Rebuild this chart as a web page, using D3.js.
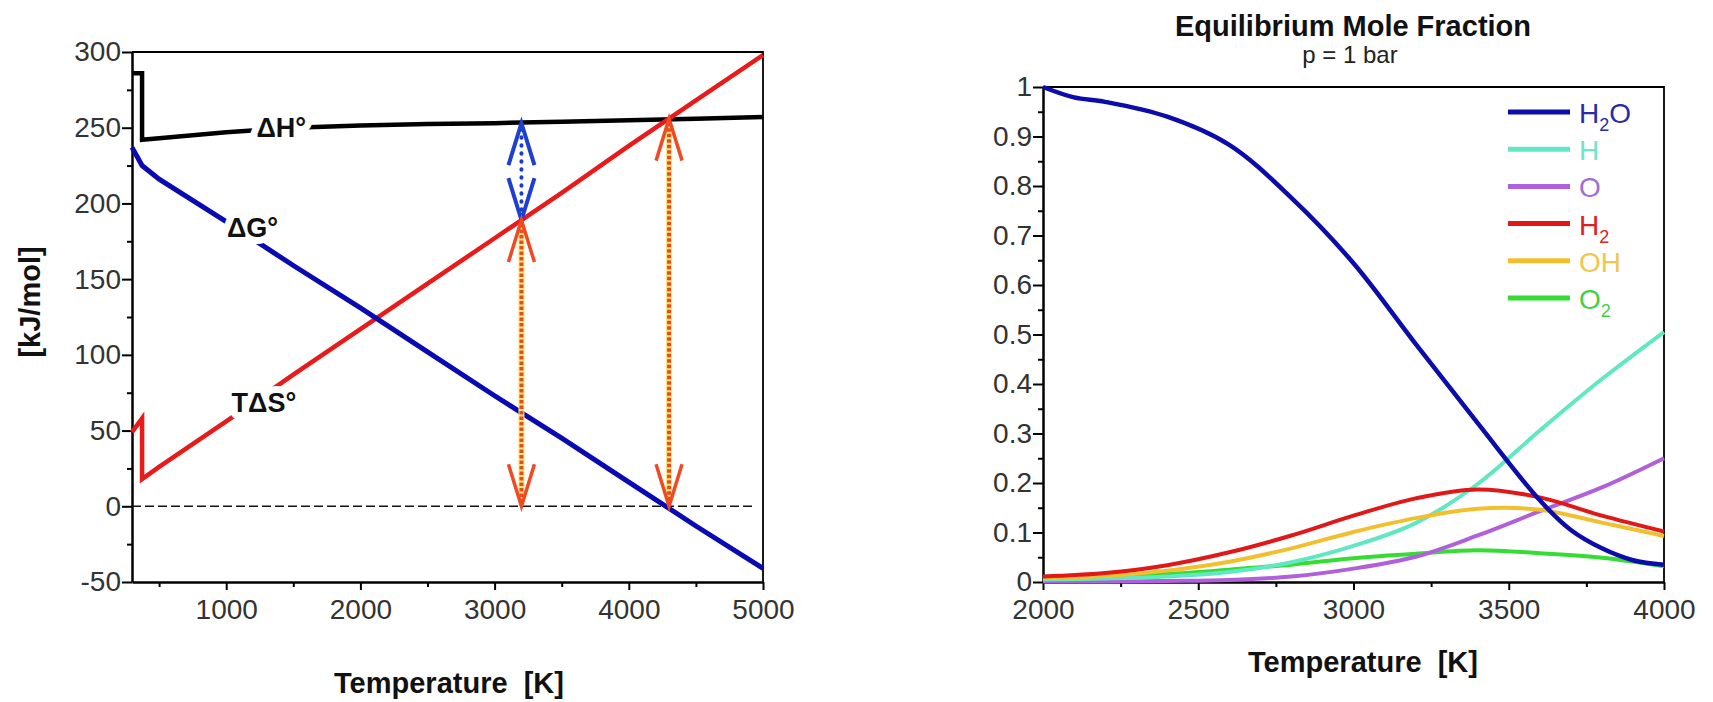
<!DOCTYPE html>
<html>
<head>
<meta charset="utf-8">
<script src="https://cdn.jsdelivr.net/npm/d3@7.9.0/dist/d3.min.js"></script>
<style>
  body { margin: 0; background: #fff; }
  svg { display: block; font-family: 'Liberation Sans', Arial, sans-serif; }
</style>
</head>
<body>
<svg id="chart" width="1713" height="702"></svg>
<script>
// ---- left panel: water splitting thermodynamics (kJ/mol) ----
const tempK = [298, 373, 373, 500, 1000, 1500, 2000, 2500, 3000, 3500, 4000, 4500, 5000];
const dH = [286, 286, 242, 243, 247, 250, 251.5, 252.5, 253, 254, 255, 256, 257];
const dG = [237, 225, 225, 216, 188, 159, 131, 102, 73, 45, 16, -13, -41];
const TdS = [49, 58, 18, 26, 56, 87, 117, 147, 177, 207, 238, 268, 298];

const labelText = ['ΔH°', 'ΔG°', 'TΔS°'];
const labelT = [1225, 1005, 1040];
const labelV = [244, 178, 62];

// arrows: temperature, lower value, upper value
const arrowT = [3200, 3200, 4300];
const arrowLo = [189, 0, 0];
const arrowHi = [253, 189, 256];
const arrowKind = ['blue', 'orange', 'orange'];

// ---- right panel: equilibrium mole fractions, p = 1 bar ----
const tempH2O = [2000, 2100, 2200, 2400, 2600, 2800, 3000, 3200, 3400, 3600, 3700, 3800, 3900, 4000];
const xH2O = [1.0, 0.979, 0.970, 0.94, 0.883, 0.776, 0.644, 0.481, 0.321, 0.165, 0.105, 0.068, 0.044, 0.035];

const tempMole = [2000, 2200, 2400, 2600, 2800, 3000, 3200, 3400, 3600, 3800, 4000];
const xH = [0.005, 0.007, 0.011, 0.020, 0.040, 0.073, 0.119, 0.198, 0.306, 0.41, 0.505];
const xO = [0.001, 0.001, 0.002, 0.004, 0.011, 0.027, 0.051, 0.094, 0.143, 0.191, 0.25];
const xH2 = [0.011, 0.018, 0.034, 0.060, 0.094, 0.134, 0.169, 0.187, 0.171, 0.134, 0.102];
const xOH = [0.008, 0.012, 0.023, 0.041, 0.068, 0.101, 0.129, 0.148, 0.146, 0.120, 0.093];
const xO2 = [0.007, 0.010, 0.016, 0.025, 0.035, 0.048, 0.057, 0.064, 0.058, 0.049, 0.032];

const speciesNames = ['H2O', 'H', 'O', 'H2', 'OH', 'O2'];
const lineColors = ['#0c0cac', '#5fe8c2', '#b060da', '#e01818', '#f2c02e', '#34dc34'];
const textColors = ['#2b2ba8', '#6ee6c6', '#a46cd4', '#e02020', '#f0c650', '#44d044'];

const svg = d3.select('#chart');

const xL = d3.scaleLinear().domain([298, 5000]).range([132, 763]);
const yL = d3.scaleLinear().domain([-50, 300]).range([582, 52]);
const xR = d3.scaleLinear().domain([2000, 4000]).range([1043, 1664]);
const yR = d3.scaleLinear().domain([0, 1]).range([582, 87]);

// plain hyphen minus, like the original plot
const plainFmt = d => String(+d.toFixed(2));

function drawFrame(x, y, xMajor, xMinor, yMajor, yMinor) {
  const g = svg.append('g');
  const [x0, x1] = x.range();
  const [y0, y1] = y.range();

  // top and right border
  g.append('path')
    .attr('d', `M${x0},${y1}H${x1}V${y0}`)
    .attr('fill', 'none').attr('stroke', '#000').attr('stroke-width', 1.8);

  const style = sel => {
    sel.attr('font-size', 28).attr('font-family', "'Liberation Sans', Arial, sans-serif");
    sel.selectAll('text').attr('fill', '#333');
    sel.selectAll('line').attr('stroke-width', 2);
  };

  g.append('g').attr('transform', `translate(0,${y0})`)
    .call(d3.axisBottom(x).tickValues(xMinor).tickSize(5).tickFormat('').tickSizeOuter(0))
    .call(s => s.select('.domain').remove()).call(style);
  g.append('g').attr('transform', `translate(${x0},0)`)
    .call(d3.axisLeft(y).tickValues(yMinor).tickSize(5).tickFormat('').tickSizeOuter(0))
    .call(s => s.select('.domain').remove()).call(style);

  g.append('g').attr('transform', `translate(0,${y0})`)
    .call(d3.axisBottom(x).tickValues(xMajor).tickSize(8).tickPadding(9).tickSizeOuter(0).tickFormat(plainFmt))
    .call(style)
    .call(s => s.select('.domain').attr('stroke-width', 2.5));
  g.append('g').attr('transform', `translate(${x0},0)`)
    .call(d3.axisLeft(y).tickValues(yMajor).tickSize(10).tickPadding(1).tickSizeOuter(0).tickFormat(plainFmt))
    .call(style)
    .call(s => s.select('.domain').attr('stroke-width', 2.5));
}

// ---------- left panel ----------
drawFrame(xL, yL,
  d3.range(1000, 5001, 1000), d3.range(500, 5000, 1000),
  d3.range(-50, 301, 50), d3.range(-25, 300, 50));

// zero reference
svg.append('line')
  .attr('x1', xL(298)).attr('x2', xL(4940))
  .attr('y1', yL(0)).attr('y2', yL(0))
  .attr('stroke', '#111').attr('stroke-width', 1.5).attr('stroke-dasharray', '9,4');

const lineL = vals => d3.line().x((d, i) => xL(tempK[i])).y(d => yL(d))(vals);

svg.append('path').attr('d', lineL(dH)).attr('fill', 'none')
  .attr('stroke', '#000').attr('stroke-width', 4.5).attr('stroke-linejoin', 'miter');
svg.append('path').attr('d', lineL(TdS)).attr('fill', 'none')
  .attr('stroke', '#e81a1a').attr('stroke-width', 4.5);
svg.append('path').attr('d', lineL(dG)).attr('fill', 'none')
  .attr('stroke', '#0a0ab4').attr('stroke-width', 5);

// arrows
function arrowHead(x, yApex, dir, color, width) {
  svg.append('path')
    .attr('d', `M${x - 13},${yApex + dir * 42}L${x},${yApex}L${x + 13},${yApex + dir * 42}`)
    .attr('fill', 'none').attr('stroke', color).attr('stroke-width', width)
    .attr('stroke-linejoin', 'miter');
}

arrowT.forEach((t, i) => {
  const x = xL(t);
  const yTop = yL(arrowHi[i]);
  const yBot = yL(arrowLo[i]);
  if (arrowKind[i] === 'blue') {
    svg.append('line').attr('x1', x).attr('x2', x).attr('y1', yTop + 6).attr('y2', yBot - 6)
      .attr('stroke', '#1a3cc8').attr('stroke-width', 4)
      .attr('stroke-linecap', 'round').attr('stroke-dasharray', '0.5,7.5');
    arrowHead(x, yTop, 1, '#1e40d0', 4);
    arrowHead(x, yBot, -1, '#1e40d0', 4);
  } else {
    svg.append('line').attr('x1', x).attr('x2', x).attr('y1', yTop + 4).attr('y2', yBot - 4)
      .attr('stroke', '#ffe27a').attr('stroke-width', 6);
    svg.append('line').attr('x1', x).attr('x2', x).attr('y1', yTop + 4).attr('y2', yBot - 4)
      .attr('stroke', '#e0501e').attr('stroke-width', 4).attr('stroke-dasharray', '3.5,2');
    arrowHead(x, yTop, 1, '#f04a22', 3.5);
    arrowHead(x, yBot, -1, '#f04a22', 3.5);
  }
});

// curve labels with white halo that breaks the lines
svg.append('g').selectAll('text')
  .data(labelText)
  .join('text')
  .attr('x', (d, i) => xL(labelT[i]))
  .attr('y', (d, i) => yL(labelV[i]))
  .attr('font-size', 27).attr('font-weight', 'bold').attr('fill', '#111')
  .attr('stroke', '#fff').attr('stroke-width', 14).attr('paint-order', 'stroke')
  .attr('stroke-linejoin', 'round')
  .text(d => d);

svg.append('text')
  .attr('transform', 'translate(40,302) rotate(-90)')
  .attr('text-anchor', 'middle')
  .attr('font-size', 29).attr('font-weight', 'bold').attr('fill', '#111')
  .text('[kJ/mol]');

svg.append('text')
  .attr('x', 449).attr('y', 693)
  .attr('text-anchor', 'middle').attr('xml:space', 'preserve')
  .attr('font-size', 29).attr('font-weight', 'bold').attr('fill', '#111')
  .text('Temperature  [K]');

// ---------- right panel ----------
drawFrame(xR, yR,
  d3.range(2000, 4001, 500), d3.range(2250, 4000, 500),
  d3.range(0, 1.001, 0.1), d3.range(0.05, 1, 0.1));

const lineR = temps => d3.line()
  .x((d, i) => xR(temps[i])).y(d => yR(d))
  .curve(d3.curveCatmullRom.alpha(0.5));

const seriesVals = [xH2O, xH, xO, xH2, xOH, xO2];
const seriesTemps = [tempH2O, tempMole, tempMole, tempMole, tempMole, tempMole];
const drawOrder = [5, 2, 1, 4, 3, 0];

drawOrder.forEach(i => {
  svg.append('path')
    .attr('d', lineR(seriesTemps[i])(seriesVals[i]))
    .attr('fill', 'none')
    .attr('stroke', lineColors[i])
    .attr('stroke-width', i === 0 ? 4.5 : 4);
});

// legend
const legend = svg.append('g');
speciesNames.forEach((name, i) => {
  const yRow = 112 + i * 37.2;
  legend.append('line')
    .attr('x1', 1508).attr('x2', 1570).attr('y1', yRow).attr('y2', yRow)
    .attr('stroke', lineColors[i]).attr('stroke-width', 5);
  const t = legend.append('text')
    .attr('x', 1579).attr('y', yRow + 11)
    .attr('font-size', 28).attr('fill', textColors[i]);
  name.split(/(\d)/).filter(s => s).forEach(part => {
    if (/\d/.test(part)) {
      t.append('tspan').attr('font-size', 18).attr('dy', 8).text(part);
    } else {
      const sp = t.append('tspan').text(part);
      if (t.selectAll('tspan').size() > 1) sp.attr('dy', -8);
    }
  });
});

svg.append('text')
  .attr('x', 1353).attr('y', 36)
  .attr('text-anchor', 'middle')
  .attr('font-size', 29).attr('font-weight', 'bold').attr('fill', '#111')
  .text('Equilibrium Mole Fraction');

svg.append('text')
  .attr('x', 1350).attr('y', 63)
  .attr('text-anchor', 'middle')
  .attr('font-size', 24).attr('fill', '#222')
  .text('p = 1 bar');

svg.append('text')
  .attr('x', 1363).attr('y', 672)
  .attr('text-anchor', 'middle').attr('xml:space', 'preserve')
  .attr('font-size', 29).attr('font-weight', 'bold').attr('fill', '#111')
  .text('Temperature  [K]');
</script>
</body>
</html>
